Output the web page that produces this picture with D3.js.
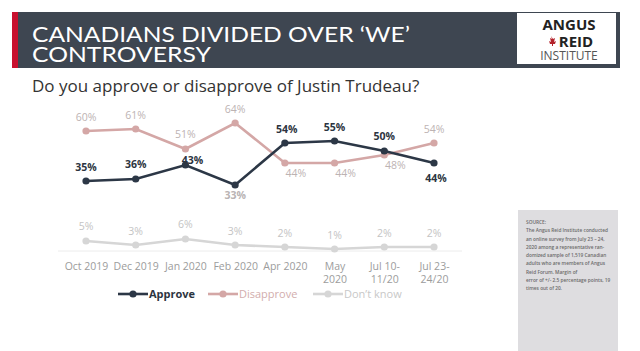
<!DOCTYPE html>
<html>
<head>
<meta charset="utf-8">
<script src="https://cdn.jsdelivr.net/npm/d3@7"></script>
<style>
  body { margin: 0; background: #fff; }
  svg { display: block; }
</style>
</head>
<body>
<div id="chart"></div>
<script>
// DATA
const periods = ["Oct 2019", "Dec 2019", "Jan 2020", "Feb 2020", "Apr 2020", "May\n2020", "Jul 10-\n11/20", "Jul 23-\n24/20"];
const approve = [35, 36, 43, 33, 54, 55, 50, 44];
const disapprove = [60, 61, 51, 64, 44, 44, 48, 54];
const dontKnow = [5, 3, 6, 3, 2, 1, 2, 2];
const seriesNames = ["Approve", "Disapprove", "Don\u2019t know"];
const sourceLines = [
    "SOURCE:",
    "The Angus Reid Institute conducted",
    "an online survey from July 23 \u2013 24,",
    "2020 among a representative ran-",
    "domized sample of 1,519 Canadian",
    "adults who are members of Angus",
    "Reid Forum. Margin of",
    "error of +/- 2.5 percentage points, 19",
    "times out of 20."
];

const W = 640, H = 351;
const svg = d3.select("#chart").append("svg")
    .attr("width", W)
    .attr("height", H);

// HEADER
svg.append("rect").attr("x", 12).attr("y", 12).attr("width", 608).attr("height", 56).attr("fill", "#3e4651");
svg.append("rect").attr("x", 12).attr("y", 12).attr("width", 6).attr("height", 56).attr("fill", "#c8102e");
svg.append("text").attr("x", 32).attr("y", 42)
    .text("CANADIANS DIVIDED OVER \u2018WE\u2019")
    .attr("textLength", 378).attr("lengthAdjust", "spacingAndGlyphs")
    .style("font-family", "Lato, 'Open Sans', sans-serif").style("font-size", "21px").attr("fill", "#fff");
svg.append("text").attr("x", 32).attr("y", 62)
    .text("CONTROVERSY")
    .attr("textLength", 179).attr("lengthAdjust", "spacingAndGlyphs")
    .style("font-family", "Lato, 'Open Sans', sans-serif").style("font-size", "21px").attr("fill", "#fff");

// logo
svg.append("rect").attr("x", 517).attr("y", 13).attr("width", 99).attr("height", 51).attr("fill", "#fff");
const logo = svg.append("g").style("font-family", "'Open Sans', sans-serif").attr("text-anchor", "middle");
logo.append("text").attr("x", 569).attr("y", 30).text("ANGUS")
    .style("font-size", "15px").style("font-weight", "700").attr("fill", "#222");
logo.append("text").attr("x", 576).attr("y", 47).text("REID")
    .style("font-size", "15px").style("font-weight", "700").attr("fill", "#222");
logo.append("path")
    .attr("d", "M551,36 l2,3 l2,-1 l-1,4 l2,-1 l-1,3 l-2,0 l0,2 l-1,0 l0,-2 l-2,0 l-1,-3 l2,1 l-1,-4 l2,1 z")
    .attr("fill", "#b3222b");
logo.append("text").attr("x", 569).attr("y", 60).text("INSTITUTE")
    .style("font-size", "12px").attr("fill", "#555");

// SUBTITLE
svg.append("text").attr("x", 32).attr("y", 92)
    .text("Do you approve or disapprove of Justin Trudeau?")
    .style("font-family", "'Open Sans', sans-serif").style("font-size", "17px").style("font-weight", "500")
    .attr("fill", "#333");

// SCALES
const x = d3.scalePoint().domain(periods).range([86, 434]);
const y = d3.scaleLinear().domain([0, 100]).range([251, 51]);

// baseline
svg.append("line")
    .attr("x1", x(periods[0]) - 28).attr("x2", x(periods[periods.length - 1]) + 28)
    .attr("y1", y(0)).attr("y2", y(0))
    .attr("stroke", "#ececec").attr("stroke-width", 1);

// X AXIS
const xAxis = svg.append("g")
    .attr("transform", "translate(0," + 258 + ")")
    .call(d3.axisBottom(x).tickSize(0).tickFormat(""));
xAxis.select(".domain").remove();
xAxis.selectAll(".tick").append("text")
    .attr("fill", "#9c9c9c")
    .style("font-family", "'Open Sans', sans-serif").style("font-size", "10.5px")
    .attr("text-anchor", "middle")
    .each(function (d) {
        const parts = d.split("\n");
        const t = d3.select(this);
        parts.forEach((p, i) => {
            t.append("tspan").attr("x", 0).attr("y", 12 + i * 13).text(p);
        });
    });

// SERIES
const series = [
    { name: seriesNames[0], values: approve, color: "#2c3746", labelColor: "#2c3440", bold: true,
      offsets: [[0, -14], [0, -15], [7, -5], [0, 10], [2, -14], [0, -14], [0, -15], [2, 15]],
      labelColors: [null, null, null, "#b9b3b3", null, null, null, null] },
    { name: seriesNames[1], values: disapprove, color: "#d4a7a6", labelColor: "#bdb3b3", bold: false,
      offsets: [[0, -14], [0, -14], [0, -15], [0, -14], [11, 10], [11, 10], [11, 10], [0, -14]],
      labelColors: [] },
    { name: seriesNames[2], values: dontKnow, color: "#d6d6d6", labelColor: "#c4c4c4", bold: false,
      offsets: [[0, -15], [0, -14], [0, -15], [0, -14], [0, -14], [0, -14], [0, -14], [0, -14]],
      labelColors: [] }
];

const line = d3.line()
    .x((d, i) => x(periods[i]))
    .y((d) => y(d));

// draw back to front
[series[2], series[1], series[0]].forEach((s) => {
    const g = svg.append("g");
    g.append("path")
        .attr("d", line(s.values))
        .attr("fill", "none")
        .attr("stroke", s.color)
        .attr("stroke-width", 2.6);
    g.selectAll("circle").data(s.values).enter().append("circle")
        .attr("cx", (d, i) => x(periods[i]))
        .attr("cy", (d) => y(d))
        .attr("r", 3.6)
        .attr("fill", s.color);
});

series.forEach((s) => {
    svg.append("g").selectAll("text").data(s.values).enter().append("text")
        .attr("x", (d, i) => x(periods[i]) + s.offsets[i][0])
        .attr("y", (d, i) => y(d) + s.offsets[i][1])
        .attr("dy", "0.35em")
        .attr("text-anchor", "middle")
        .style("font-family", "'Open Sans', sans-serif")
        .style("font-size", "10.5px")
        .style("font-weight", s.bold ? "700" : "400")
        .attr("fill", (d, i) => s.labelColors[i] || s.labelColor)
        .text((d) => d + "%");
});

// LEGEND
const legendX = [118, 208, 313];
const legendText = ["#2c3440", "#d2adad", "#c8c8c8"];
series.forEach((s, i) => {
    const g = svg.append("g").attr("transform", "translate(" + legendX[i] + ",294)");
    g.append("line").attr("x1", 0).attr("x2", 30).attr("stroke", s.color).attr("stroke-width", 2.6);
    g.append("circle").attr("cx", 15).attr("r", 3.6).attr("fill", s.color);
    g.append("text").attr("x", 31).attr("dy", "0.35em")
        .style("font-family", "'Open Sans', sans-serif").style("font-size", "11px")
        .style("font-weight", s.bold ? "700" : "400")
        .attr("fill", legendText[i])
        .text(s.name);
});

// SOURCE BOX
svg.append("rect").attr("x", 518).attr("y", 210).attr("width", 100).attr("height", 141).attr("fill", "#dedde0");
svg.append("g")
    .attr("transform", "translate(526,0) scale(0.8,1)")
    .selectAll("text").data(sourceLines).enter().append("text")
    .attr("x", 0)
    .attr("y", (d, i) => 224 + i * 8.3)
    .style("font-family", "'Open Sans', sans-serif")
    .style("font-size", "6px")
    .style("font-weight", "600")
    .attr("fill", "#6a6a6a")
    .text((d) => d);
</script>
</body>
</html>
